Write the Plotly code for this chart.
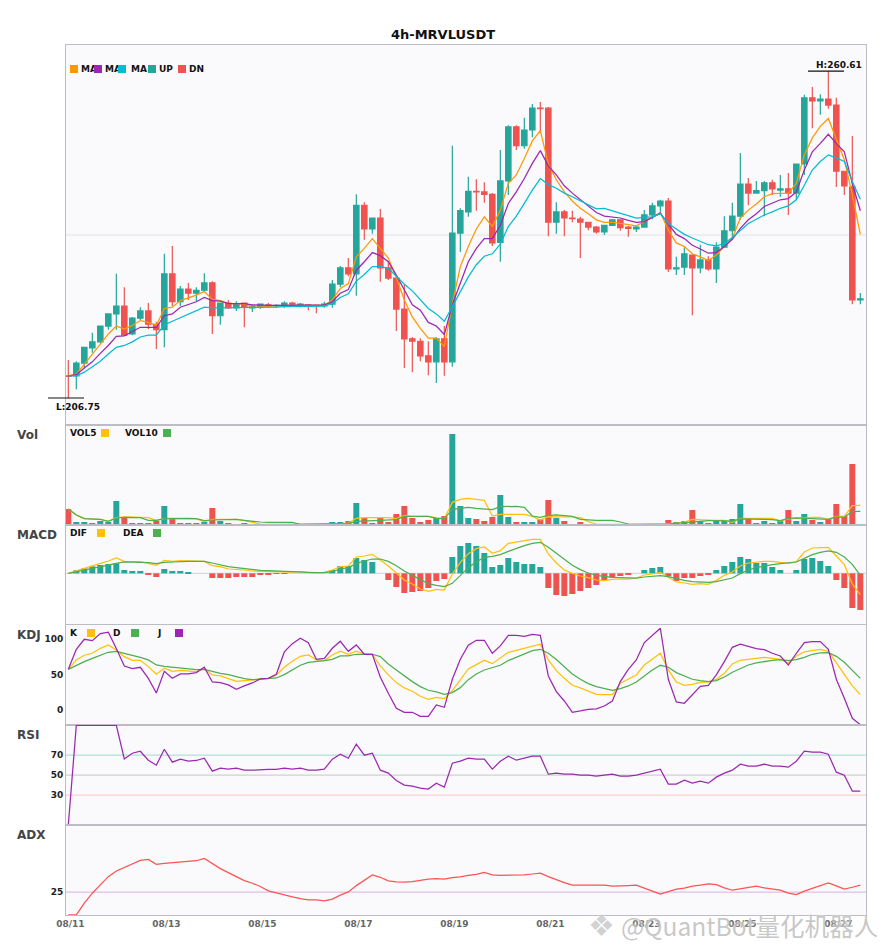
import plotly.graph_objects as go
from plotly.subplots import make_subplots

opens = [210.4,210.4,212.5,215.0,216.0,218.6,220.6,221.9,217.3,219.9,
    221.1,218.9,218.0,227.2,222.6,224.7,224.0,224.5,225.7,220.3,
    222.4,221.6,222.4,221.6,221.7,222.1,221.9,221.9,222.4,222.0,
    222.1,222.0,221.9,222.2,225.5,228.2,227.2,238.5,234.6,236.4,
    228.2,226.5,221.4,216.5,216.1,213.7,212.7,216.5,212.7,233.9,
    237.4,240.8,240.7,240.3,232.4,242.5,251.4,248.3,250.9,254.5,
    254.5,235.7,237.4,236.4,236.2,235.7,234.9,234.1,235.2,236.1,
    234.9,234.6,234.9,236.9,238.4,239.2,228.0,228.3,230.3,228.2,
    229.5,228.0,231.6,234.3,236.7,242.0,240.5,240.9,242.2,241.0,
    241.2,240.5,245.3,256.2,255.7,256.0,255.0,244.1,241.5,222.9]
highs = [213.0,212.8,215.1,217.5,218.6,220.7,227.2,225.0,220.1,221.7,
    222.4,219.3,230.5,231.8,225.2,225.7,225.0,227.3,226.0,222.4,
    222.9,222.7,222.4,222.1,222.2,222.4,222.2,222.7,222.6,222.4,
    222.2,222.1,222.6,226.2,228.5,229.8,240.3,239.0,236.4,237.9,
    229.3,226.5,225.4,216.8,216.6,216.1,216.8,218.6,248.3,238.0,
    243.2,242.8,242.3,240.5,247.6,251.7,251.7,252.9,255.2,255.5,
    254.7,239.0,237.7,237.6,236.6,235.7,235.1,235.2,236.2,236.2,
    235.1,235.1,237.7,238.9,239.4,239.7,230.0,231.6,230.3,232.0,
    230.1,232.4,236.7,238.9,247.1,243.0,242.5,242.5,242.7,243.5,
    243.8,245.3,256.7,258.0,256.8,260.61,256.2,244.1,249.9,224.05]
lows = [206.75,208.2,211.6,214.2,215.8,218.0,218.0,217.0,217.1,219.6,
    218.1,214.8,215.1,221.9,221.9,222.9,222.7,224.2,217.3,218.8,
    221.4,221.1,218.4,220.9,221.4,221.6,221.6,221.6,221.9,221.7,
    221.2,220.7,221.6,221.6,225.0,226.8,223.6,232.8,233.8,225.9,
    226.2,217.8,211.7,211.0,212.8,210.5,209.2,210.4,211.9,230.8,
    236.6,237.6,238.9,231.8,229.2,240.2,247.6,247.8,249.7,250.6,
    233.4,233.8,233.4,235.7,229.8,234.4,233.8,233.6,235.1,234.3,
    233.3,234.1,234.8,236.2,237.2,227.5,227.0,227.0,220.4,227.3,
    227.7,225.7,231.5,233.3,236.1,238.5,240.4,236.7,240.2,239.9,
    236.9,239.4,243.5,251.2,253.4,254.4,241.5,240.2,222.2,222.2]
closes = [210.3,212.5,215.1,216.0,218.6,220.6,221.9,217.1,219.9,221.1,
    218.9,218.0,227.2,222.6,224.7,224.0,224.5,225.7,220.3,222.4,
    221.6,222.3,221.7,221.9,222.2,221.9,222.0,222.4,222.2,222.2,
    221.9,221.9,222.2,225.5,228.2,227.2,238.5,234.6,236.4,228.2,
    226.5,221.4,216.5,216.1,213.7,212.7,216.5,212.7,233.9,237.6,
    240.8,240.7,240.3,232.3,242.5,251.4,248.3,250.9,254.5,254.4,
    235.7,237.4,236.4,236.3,235.7,234.9,234.1,235.2,236.1,234.8,
    234.7,234.9,236.9,238.4,239.2,228.0,228.2,230.5,228.2,229.5,
    228.0,231.6,234.3,236.7,242.0,240.5,240.9,242.2,241.2,241.2,
    240.5,245.3,256.2,255.7,256.0,255.0,244.1,241.7,222.9,223.1]

ma_fast = [210.4,210.7,212.3,214.0,215.8,217.3,218.6,218.1,218.7,219.5,
    219.2,218.7,221.5,221.7,222.8,223.2,223.7,224.3,223.0,222.8,
    222.3,222.3,222.2,221.7,221.8,221.9,221.9,222.0,222.0,222.0,
    222.0,221.9,222.0,222.9,224.8,225.6,230.0,231.4,233.0,231.4,
    229.8,226.6,222.9,220.1,218.2,216.6,216.6,215.2,222.3,228.4,
    231.7,234.6,236.6,235.0,237.7,242.1,243.5,246.2,249.1,250.8,
    245.3,242.7,240.7,239.2,238.0,237.1,236.1,235.7,235.7,235.5,
    235.3,235.1,235.8,236.6,237.3,234.4,232.3,231.7,230.5,230.0,
    229.4,230.3,231.7,233.1,236.4,237.7,238.7,239.9,240.4,240.5,
    240.5,242.1,246.8,249.6,251.5,252.8,249.5,246.0,240.2,233.7]
ma_mid = [210.4,210.6,211.7,212.7,214.1,215.4,216.9,217.0,217.7,218.4,
    218.4,218.4,220.3,220.6,221.7,222.1,222.6,223.3,222.8,222.7,
    222.3,222.3,222.3,222.1,222.0,222.0,222.0,222.0,222.1,222.1,
    222.1,222.0,222.1,222.6,224.0,224.6,227.8,229.2,230.7,230.2,
    229.2,227.0,224.5,222.1,221.2,219.2,218.6,217.2,222.1,225.6,
    229.2,231.4,233.0,233.0,235.2,238.8,240.7,242.9,245.4,247.5,
    245.0,243.5,241.7,240.5,239.4,238.3,237.3,236.7,236.6,236.4,
    236.0,235.7,235.8,236.5,237.2,235.4,233.7,233.0,231.9,231.3,
    230.6,230.7,231.7,232.9,234.7,236.1,237.1,238.3,238.9,239.4,
    239.6,240.7,244.3,247.3,248.7,250.2,248.7,247.3,242.1,237.6]
ma_slow = [210.4,210.4,211.0,211.9,212.8,214.0,215.1,215.4,216.0,216.8,
    217.1,217.1,218.8,219.4,220.0,220.6,221.1,221.7,221.6,221.6,
    221.6,221.7,221.7,221.7,221.7,221.7,221.7,221.8,221.8,221.9,
    221.8,221.8,221.9,222.3,223.3,223.9,226.0,227.1,228.4,228.4,
    228.1,226.8,225.5,224.4,222.9,221.5,220.6,219.4,221.8,224.3,
    226.7,228.7,230.1,230.5,232.1,235.0,236.7,238.8,241.0,242.9,
    241.9,241.3,240.5,239.9,239.2,238.5,237.9,238.0,237.6,237.3,
    236.9,236.4,236.5,236.6,237.1,235.5,234.6,233.7,233.1,232.5,
    232.0,231.8,232.2,233.2,234.4,235.5,236.2,236.9,237.4,238.0,
    238.4,239.4,241.8,244.3,245.7,246.8,246.3,245.7,242.4,239.5]

volume = [47,8,8,5,11,8,71,22,5,5,
    5,11,56,18,5,5,5,8,50,11,
    5,2,5,2,1,1,1,1,1,1,
    1,1,1,8,8,11,65,20,5,20,
    8,32,56,20,8,14,20,26,272,56,
    20,17,11,23,89,23,8,8,8,17,
    74,20,11,2,8,2,2,1,1,0,
    0,0,0,0,1,14,8,11,44,11,
    5,11,11,17,62,17,5,11,5,11,
    44,11,32,14,8,17,62,26,182,2]
vol5 = [47,29,18,16,16,10,21,23,22,22,
    21,13,18,19,19,19,17,9,16,16,
    16,16,12,8,2,1,1,1,1,1,
    1,1,1,2,3,5,19,21,21,21,
    21,18,27,25,25,25,21,18,67,76,
    79,77,73,26,31,31,31,31,25,14,
    24,24,23,23,21,9,2,1,1,1,
    1,1,1,1,1,3,5,8,16,16,
    14,13,13,7,19,19,19,19,19,11,
    17,19,21,22,22,16,25,25,57,58]
vol10 = [47,29,18,16,16,10,20,22,21,21,
    13,13,18,19,19,19,18,12,14,15,
    16,16,13,10,8,7,7,7,7,1,
    1,1,1,2,2,3,10,11,11,12,
    12,15,25,25,25,25,19,18,46,50,
    52,49,46,45,54,55,55,52,26,22,
    28,29,27,25,16,14,13,13,13,8,
    2,1,1,1,1,2,4,6,8,11,
    12,12,11,11,17,17,17,17,15,12,
    19,20,19,19,19,16,23,22,40,40]

macd_hist = [0,.45,.75,1.05,1.25,1.4,1.5,.5,.35,.35,
    -.15,-.55,.65,.35,.35,.2,0,0,-.7,-.7,
    -.7,-.55,-.55,-.55,-.25,-.25,-.1,-.1,0,0,
    0,0,0,.5,1.1,1.1,2.3,2.0,1.7,0,
    -1.0,-2.05,-2.95,-2.8,-2.65,-2.2,-1.15,-.85,2.45,4.1,
    4.55,4.1,3.05,.95,1.25,2.3,1.7,1.4,1.4,.95,
    -2.2,-3.25,-3.4,-3.1,-2.65,-2.2,-1.75,-1.0,-.65,-.4,
    -.25,0,.5,.8,.95,-.45,-1.15,-.7,-.7,-.4,
    -.25,.5,1.1,1.7,2.45,2.15,1.55,1.55,.95,.5,
    0,.5,2.15,2.3,1.85,1.1,-1.0,-2.2,-5.2,-5.5]
dif = [0,.4,.75,1.1,1.5,1.85,2.3,1.8,1.8,1.75,
    1.5,1.2,1.95,1.8,1.9,1.85,1.8,1.8,1.15,1.0,
    .65,.6,.5,.35,.3,.25,.25,.2,.2,.25,
    .1,.1,.15,.5,1.0,1.1,2.45,2.6,2.85,2.0,
    1.1,.05,-1.0,-1.6,-2.35,-2.7,-2.4,-2.5,-.1,1.65,
    2.95,3.7,3.95,3.0,3.4,4.5,4.7,4.8,5.1,5.1,
    2.9,1.55,.5,0,-.4,-.65,-1.0,-1.1,-.9,-.85,
    -.85,-.7,-.25,-.1,.15,-.6,-1.3,-1.45,-1.65,-1.55,
    -1.65,-1.05,-.3,.2,1.1,1.55,1.7,1.8,1.8,1.7,
    1.5,1.75,3.2,3.8,3.9,3.9,2.6,1.3,-1.6,-3.2]
dea = [0,.25,.55,.85,1.1,1.25,1.5,1.7,1.7,1.65,
    1.6,1.45,1.65,1.7,1.8,1.8,1.8,1.8,1.55,1.25,
    1.0,.85,.7,.55,.45,.4,.3,.3,.25,.25,
    .15,.1,.1,.25,.65,.85,1.45,1.85,2.15,2.15,
    1.8,1.15,.35,-.3,-.95,-1.55,-1.8,-2.0,-1.5,-.4,
    .85,1.75,2.4,2.55,2.8,3.3,3.75,4.15,4.5,4.65,
    3.9,3.0,2.0,1.2,.55,.05,-.3,-.5,-.6,-.65,
    -.7,-.7,-.55,-.4,-.35,-.5,-.8,-1.05,-1.25,-1.35,
    -1.35,-1.25,-1.0,-.7,-.05,.5,.85,1.1,1.3,1.45,
    1.55,1.7,2.25,2.8,3.15,3.35,3.15,2.45,1.35,-.3]

kdj_k = [57.7,70.9,77.5,80.3,87.3,92,85,75.6,70.4,70.4,
    61.5,50.7,59.2,54.9,56.3,55.4,54.5,58.7,49.8,48.4,
    45,40.8,41.8,42.7,44.1,45,49.8,60.6,69,76,
    77.9,70.9,70,77.9,83.1,78.9,83.1,79.3,78.9,62.4,
    49.8,39,31.5,26.8,19.7,15.5,18.3,16.4,27.7,42.7,
    58.2,64.3,70.4,65.7,73.2,81.7,84.5,87.3,90.1,93,
    70.9,55.9,45,35.2,31.5,27.2,22.5,22.1,22.1,38,
    43.7,49.8,63.8,71.8,80.3,56.8,39.9,35.2,36.6,39.4,
    39.9,43.7,52.1,65.3,70.4,71.8,73.2,74.6,73.2,71.8,
    66.2,76.5,82.2,84.5,85.9,83.1,66.2,49.8,34.3,22.1]
kdj_d = [57.7,63.4,68.5,73.2,77.9,81.7,83,80.3,77.5,74.6,
    70.9,63.8,62,60.6,59.2,57.7,57.3,57.7,54.5,52.1,
    50.2,46.9,44.6,43.2,43.7,44.6,45.5,50.2,56.8,63.4,
    67.6,68.5,70,71.8,76.5,76.5,78.9,78.9,78.9,75.6,
    65.3,56.8,48.4,40.4,33.3,28.2,25.8,22.5,24.9,31.9,
    43.2,51.2,56.8,59.6,63.4,70,74.6,78.9,84,85.9,
    80.3,71.4,61.5,51.2,43.7,37.6,33.3,31,28.2,30.5,
    34.3,39.9,47.9,56.8,63.4,60.6,53.1,47.9,43.7,41.8,
    40.4,41.8,46.9,53.5,59.2,63.8,66.7,69,70.4,71.4,
    70,71.4,74.6,78.9,80.8,81.2,76,67.6,56.8,45]
kdj_j = [57.7,85.9,100,98,108,110,87,62.4,58.7,60.6,
    45,24.4,54.9,45,51.2,51.2,53.1,60.6,39.9,39,
    35.7,29.6,34.3,38.5,44.1,45,50.7,82.2,93.9,101.4,
    95.3,71.8,73.2,87.3,97.2,83.1,92,78.9,78.9,46.5,
    23.9,2.8,-2.8,-2.8,-8.5,-8.5,7.5,4.2,43.7,71.8,
    91.5,98.6,98.6,80.3,90.6,105.6,105.6,104.2,107,105.6,
    48.4,26.3,13.1,-2.8,-.9,1.4,1.9,6.1,13.1,40.4,
    57.7,70.9,95.3,105.6,115.5,43.7,11.7,9.9,21.6,33.8,
    35.2,49.8,68.5,88.7,93,89.7,86.9,85.4,80.3,76.5,
    63.8,80.3,95.3,96.7,96.7,85.9,43.7,16.9,-11.3,-20.2]

rsi = [0,100,100,100,100,100,100,66.3,72,74,
    65,60,76,63,66,64,64.7,67,54,57,
    56,57,55,55,55.7,55.7,55.7,57,56,57,
    55,55,56,66,71,67,81,70,72,55,
    52,44.7,40,39,37,36,42,38,62,64,
    67,66,66,56,64,69,65,67,69,69,
    51,52,51,51,50,50,49,50,51,49,
    49,50,52,54,56,41,41,45,42,44,
    42,48,52,55,61,59,59,61,59,59,
    58,64,74,73,73,71,53,50,34,34]

adx = [9.7,9.7,17.7,24.3,29.9,35.4,39.2,41.7,44.1,46.3,
    47,43.7,44.3,44.8,45.4,46.1,46.1,47.7,44.3,40.8,
    38.1,35.4,32.8,31,28.8,25.9,24.3,23.2,21.9,20.6,
    19.9,19.9,19.2,20.3,23,25.2,29.4,33.2,36.6,35,
    32.6,31.9,31.7,32.1,33,33.7,34.1,33.7,34.8,35.2,
    36.3,37,38.3,36.6,36.3,36.3,36.3,36.6,37.2,37.7,
    35.4,33.2,31.4,29.7,29.7,29.7,29.7,29.7,29,29,
    29.4,29.7,27.9,25.7,23.7,25.4,27,27.7,29,29.7,
    30.6,30.1,27.9,26.3,27.2,28.3,29,27.9,27.2,26.3,
    24.3,23.4,25.7,27.7,29.4,31.2,29.2,27,28.3,29.7]

date_ticks = [0, 12, 24, 36, 48, 60, 72, 84, 96]
date_labels = ['08/11', '08/13', '08/15', '08/17', '08/19', '08/21', '08/23', '08/25', '08/27']
panel_names = ['Vol', 'MACD', 'KDJ', 'RSI', 'ADX']

UP = '#26a69a'
DOWN = '#ef5350'
FONT = 'DejaVu Sans'
xs = list(range(len(closes)))

# page body adds 8px, the px helpers below work in window pixels
LEFT, RIGHT, TOP, BOTTOM = 66, 866, 45, 915

def px_x(x):
    return (x - LEFT) / (RIGHT - LEFT)

def px_y(y):
    return (BOTTOM - y) / (BOTTOM - TOP)

def add_line(fig, y, color, row, width=1.25):
    fig.add_trace(go.Scatter(x=xs, y=y, mode='lines', line=dict(color=color, width=width),
                             hoverinfo='skip'), row=row, col=1)

def label(fig, x, y, text, size=9, color='#111111'):
    # annotations sit 1px right of the anchor
    fig.add_annotation(x=px_x(x - 1), y=px_y(y), xref='paper', yref='paper', text=text, showarrow=False,
                       xanchor='left', yanchor='middle', borderpad=0,
                       font=dict(family=FONT, size=size, color=color, weight=700))

def swatch(fig, x, y, color):
    fig.add_annotation(x=px_x(x), y=px_y(y), xref='paper', yref='paper', text=' ', showarrow=False,
                       xanchor='left', yanchor='middle', width=8, height=8, bgcolor=color,
                       borderpad=0, borderwidth=0, font=dict(size=6))

def main():
    fig = make_subplots(rows=6, cols=1, shared_xaxes=True, vertical_spacing=0,
                        row_heights=[380, 100, 100, 100, 100, 90])

    fig.add_trace(go.Candlestick(x=xs, open=opens, high=highs, low=lows, close=closes,
                                 increasing=dict(line=dict(color=UP, width=1.2), fillcolor=UP),
                                 decreasing=dict(line=dict(color=DOWN, width=1.2), fillcolor=DOWN),
                                 whiskerwidth=0, hoverinfo='skip'), row=1, col=1)
    add_line(fig, ma_fast, '#ff9800', 1)
    add_line(fig, ma_mid, '#9c27b0', 1)
    add_line(fig, ma_slow, '#00bcd4', 1)

    candle_colors = [UP if c >= o else DOWN for o, c in zip(opens, closes)]
    fig.add_trace(go.Bar(x=xs, y=volume, marker=dict(color=candle_colors, line_width=0)), row=2, col=1)
    add_line(fig, vol5, '#ffc107', 2)
    add_line(fig, vol10, '#4caf50', 2)

    hist_colors = [UP if v >= 0 else DOWN for v in macd_hist]
    fig.add_trace(go.Bar(x=xs, y=macd_hist, marker=dict(color=hist_colors, line_width=0)), row=3, col=1)
    add_line(fig, dif, '#ffc107', 3)
    add_line(fig, dea, '#4caf50', 3)

    add_line(fig, kdj_k, '#ffc107', 4)
    add_line(fig, kdj_d, '#4caf50', 4)
    add_line(fig, kdj_j, '#9c27b0', 4)

    add_line(fig, rsi, '#9c27b0', 5)
    add_line(fig, adx, '#ff5252', 6)

    hlines = [(233.6, '#e2e2e6', 1), (0, '#d8d8dc', 3),
              (100, '#b2dfdb', 4), (50, '#d0d0d4', 4), (0, '#ffcdd2', 4),
              (70, '#b2dfdb', 5), (50, '#d0d0d4', 5), (30, '#ffcdd2', 5),
              (25, '#e1bee7', 6)]
    for value, color, row in hlines:
        fig.add_hline(y=value, line=dict(color=color, width=1.2), layer='below', row=row, col=1)

    fig.update_xaxes(range=[-0.29, 99.71], showgrid=False, zeroline=False, showline=True, mirror=True,
                     linecolor='#bcbcc4', linewidth=1, rangeslider_visible=False,
                     tickvals=date_ticks, ticktext=date_labels, ticks='', ticklabelshift=2,
                     tickfont=dict(family=FONT, size=9, color='#666666', weight=700))
    fig.update_yaxes(showgrid=False, zeroline=False, showline=True, mirror=True,
                     linecolor='#bcbcc4', linewidth=1, ticks='', showticklabels=False,
                     tickfont=dict(family=FONT, size=9, color='#222222', weight=700))
    fig.update_yaxes(range=[202.3, 264.9], row=1, col=1)
    fig.update_yaxes(range=[-1, 299], row=2, col=1)
    fig.update_yaxes(range=[-7.75, 7.25], row=3, col=1)
    fig.update_yaxes(range=[-20.7, 120.1], tickvals=[0, 50, 100], showticklabels=True, row=4, col=1)
    fig.update_yaxes(range=[0, 100.3], tickvals=[30, 50, 70], showticklabels=True, row=5, col=1)
    fig.update_yaxes(range=[9.67, 70.1], tickvals=[25], showticklabels=True, row=6, col=1)

    # legends
    for x, name in [(81, 'MA'), (105, 'MA'), (131, 'MA'), (159, 'UP'), (189, 'DN')]:
        label(fig, x, 69, name)
    for x, color in [(70, '#ff9800'), (94, '#9c27b0'), (118, '#00bcd4'), (148, UP), (178, DOWN)]:
        swatch(fig, x, 69, color)

    label(fig, 70, 433, 'VOL5')
    label(fig, 125, 433, 'VOL10')
    swatch(fig, 101, 433, '#ffc107')
    swatch(fig, 163, 433, '#4caf50')

    label(fig, 70, 533, 'DIF')
    label(fig, 123, 533, 'DEA')
    swatch(fig, 97, 533, '#ffc107')
    swatch(fig, 153, 533, '#4caf50')

    label(fig, 70, 633, 'K')
    label(fig, 113, 633, 'D')
    label(fig, 157, 633, 'J')
    swatch(fig, 87, 633, '#ffc107')
    swatch(fig, 131, 633, '#4caf50')
    swatch(fig, 175, 633, '#9c27b0')

    for name, y in zip(panel_names, [435, 535, 635, 735, 835]):
        label(fig, 17, y, name, size=12, color='#444444')

    # high / low markers
    for x0, x1, price in [(808, 844, 260.61), (48, 84, 206.75)]:
        fig.add_shape(type='line', xref='paper', yref='y', x0=px_x(x0), x1=px_x(x1), y0=price, y1=price,
                      line=dict(color='#111111', width=1.2))
    label(fig, 816, 65, 'H:260.61')
    label(fig, 56, 407, 'L:206.75')

    # watermark
    fig.add_annotation(x=px_x(586), y=px_y(925), xref='paper', yref='paper', text='❖', showarrow=False,
                       xanchor='left', yanchor='middle',
                       font=dict(family=FONT, size=30, color='rgba(190,190,190,0.7)',
                                 shadow='0 0 3px white'))
    fig.add_annotation(x=px_x(619), y=px_y(925), xref='paper', yref='paper', text='@QuantBot量化机器人',
                       showarrow=False, xanchor='left', yanchor='middle',
                       font=dict(family='Noto Sans CJK SC', size=24.6, color='rgba(185,185,185,0.8)',
                                 shadow='0 0 3px white'))

    fig.update_layout(
        width=869, height=934,
        margin=dict(l=LEFT - 8, r=885 - 8 - RIGHT, t=TOP - 8, b=950 - 8 - BOTTOM),
        title=dict(text='4h-MRVLUSDT', x=(443 - 8) / 869, xanchor='center', y=1 - (34 - 8) / 934, yanchor='middle',
                   font=dict(family=FONT, size=13, color='#111111', weight=700)),
        paper_bgcolor='white', plot_bgcolor='#fafafc',
        showlegend=False, bargap=0.25, boxgap=0.25, boxgroupgap=0.1, hovermode=False,
        font=dict(family=FONT),
    )
    fig.write_html('out.html')


if __name__ == '__main__':
    main()
